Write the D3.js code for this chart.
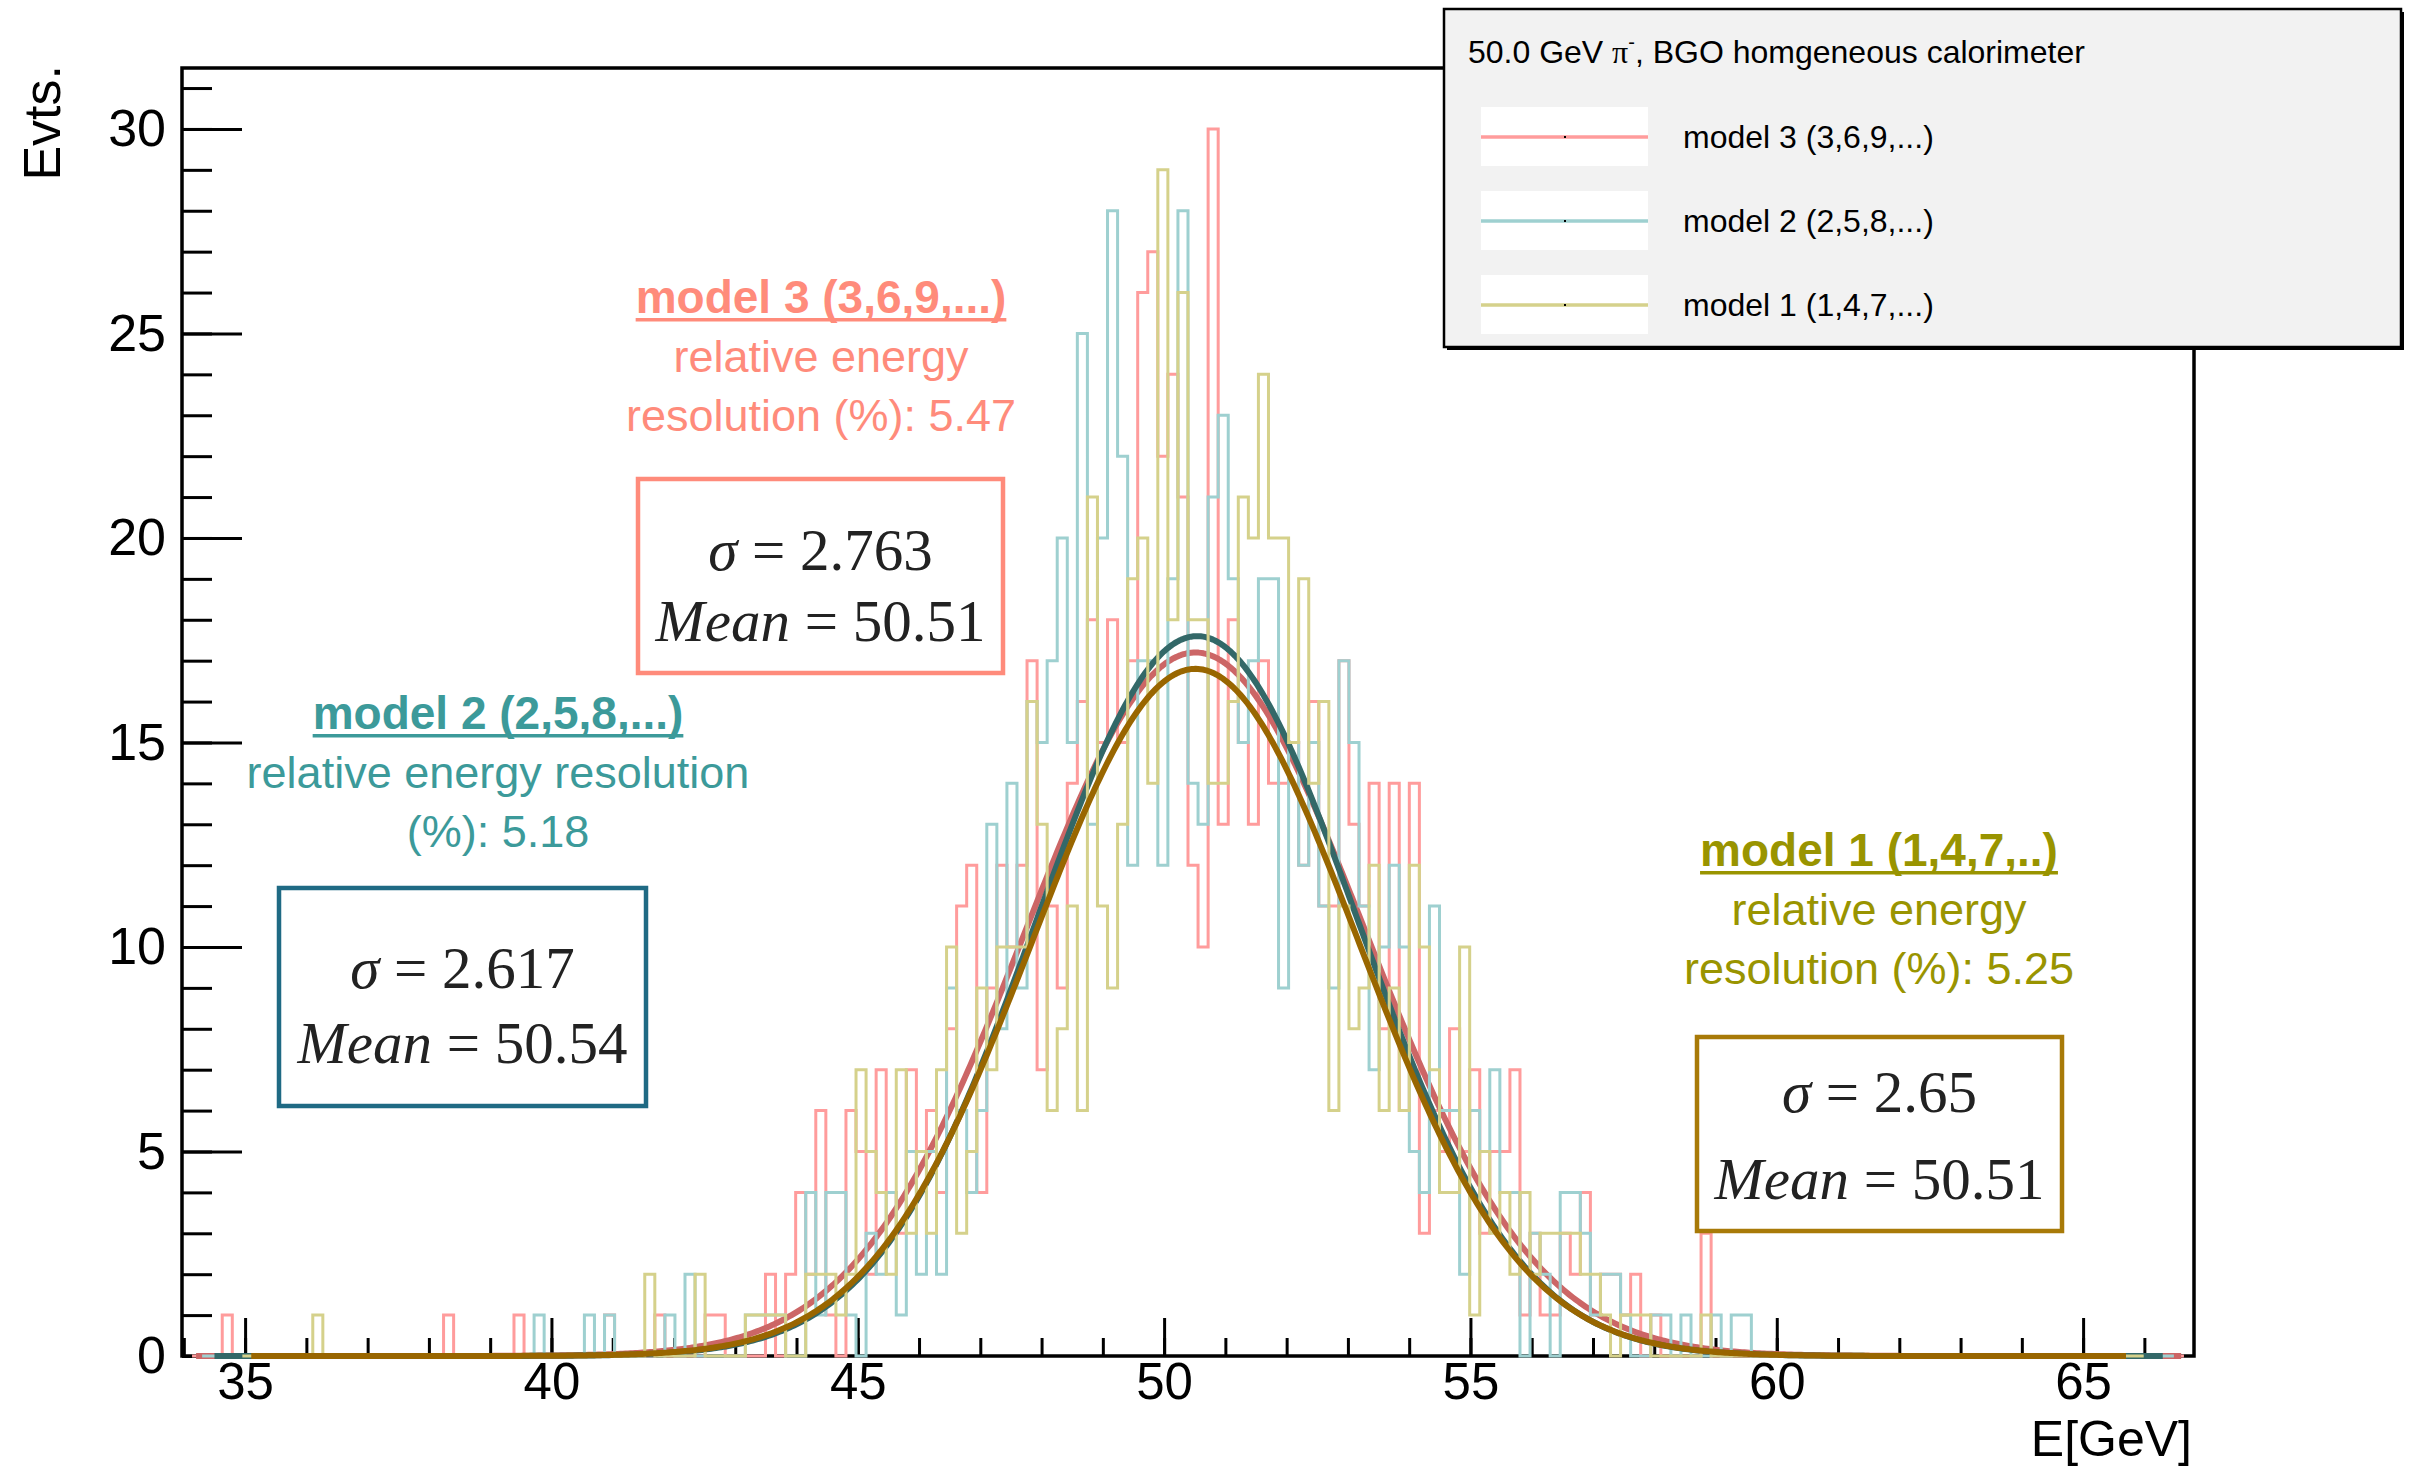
<!DOCTYPE html>
<html>
<head>
<meta charset="utf-8">
<script src="https://cdn.jsdelivr.net/npm/d3@7"></script>
<style>
  html, body { margin: 0; padding: 0; background: #fff; }
  svg { display: block; }
</style>
</head>
<body>
<svg id="chart" width="2416" height="1468"></svg>
<script>
// ---- histogram binning ----
const energyRange = [33.97, 66.81];   // GeV
const nBins = 200;
const xTicks = [35, 40, 45, 50, 55, 60, 65];
const yTicks = [0, 5, 10, 15, 20, 25, 30];

// ---- per-model event counts, bins 0..159 (bins above 159 are empty) ----
const countsModel3 = [
  0,0,0,0,1,0,0,0,0,0,  0,0,0,0,0,0,0,0,0,0,
  0,0,0,0,0,0,1,0,0,0,  0,0,0,1,0,0,0,0,0,0,
  0,0,1,0,0,0,0,1,0,0,  0,0,1,1,0,0,0,0,2,0,
  2,4,2,6,1,0,6,5,2,7,  4,3,7,5,6,4,8,11,12,4,
  9,12,10,12,17,7,11,9,14,16,  18,15,18,15,17,26,27,22,24,21,
  12,10,30,13,18,15,13,17,14,14,  15,12,16,11,11,17,13,11,14,8,
  14,6,14,3,6,5,8,5,7,3,  5,5,7,1,3,1,1,3,2,4,
  1,2,2,1,2,0,1,0,0,0,  0,3,0,0,0,0,0,0,0,0
];
const countsModel2 = [
  0,0,0,0,0,0,0,0,0,0,  0,0,0,0,0,0,0,0,0,0,
  0,0,0,0,0,0,0,0,0,0,  0,0,0,0,0,1,0,0,0,0,
  1,0,1,0,0,0,0,0,1,0,  2,0,0,0,0,0,1,1,1,1,
  0,0,4,1,4,4,1,0,3,2,  4,1,5,2,5,2,9,6,4,6,
  13,8,14,9,16,15,17,20,15,25,  13,20,28,22,12,17,17,12,19,28,
  14,13,21,23,19,15,17,19,19,9,  15,12,15,11,9,17,15,11,7,10,
  12,10,5,4,11,6,6,2,6,5,  7,4,4,0,3,2,0,4,4,3,
  1,2,2,1,0,0,1,1,0,1,  0,0,1,0,1,1,0,0,0,0
];
const countsModel1 = [
  0,0,0,0,0,0,0,0,0,0,  0,0,0,1,0,0,0,0,0,0,
  0,0,0,0,0,0,0,0,0,0,  0,0,0,0,0,0,0,0,0,0,
  0,0,0,0,0,0,2,0,0,0,  0,2,0,0,0,0,1,1,1,1,
  0,0,2,2,2,1,2,7,5,4,  2,7,3,5,3,7,10,3,5,9,
  7,10,10,10,16,13,6,8,11,6,  21,11,9,13,19,20,14,29,18,26,
  18,18,14,14,16,21,20,24,20,20,  15,19,14,16,6,11,8,9,12,6,
  9,6,12,10,7,4,4,10,1,5,  3,4,2,4,2,3,3,3,3,2,
  2,1,0,1,1,1,0,0,0,0,  0,1,0,0,0,0,0,0,0,0
];
// first and last bin edge covered by each histogram
const binSpans = [[1, 199], [2, 198], [6, 195]];

// ---- Gaussian fits ----
const modelNames  = ["model 3 (3,6,9,...)", "model 2 (2,5,8,...)", "model 1 (1,4,7,...)"];
const noteTitles  = ["model 3 (3,6,9,...)", "model 2 (2,5,8,...)", "model 1 (1,4,7,..)"];
const fitSigma    = [2.763, 2.617, 2.65];
const fitMean     = [50.51, 50.54, 50.51];
const fitPeak     = [17.2, 17.6, 16.8];
const fitRanges   = [[34.2, 66.6], [34.5, 66.3], [35.1, 65.7]];
const legendTitle = "50.0 GeV";
const legendTitleTail = ", BGO homgeneous calorimeter";

const histColors = ["#ff9c9c", "#9ed0d0", "#d5d18b"];
const fitColors  = ["#cc6666", "#336868", "#996600"];
const noteColors = ["#ff8b7b", "#3c9a9a", "#999400"];
const boxColors  = ["#ff8b7b", "#1f6a84", "#a87a08"];

// ---- layout ----
const W = 2416, H = 1468;
const frame = { left: 182, right: 2194, top: 68, bottom: 1356 };
const svg = d3.select("#chart");

const x = d3.scaleLinear().domain(energyRange).range([frame.left, frame.right]);
const y = d3.scaleLinear().domain([0, 31.49]).range([frame.bottom, frame.top]);
const binWidth = (energyRange[1] - energyRange[0]) / nBins;
const edge = i => energyRange[0] + i * binWidth;

const axisFont = "'Liberation Sans', Arial, Helvetica, sans-serif";

// ---- axes (drawn first, marks sit above them) ----
const gAxes = svg.append("g");
gAxes.append("rect")
  .attr("x", frame.left).attr("y", frame.top)
  .attr("width", frame.right - frame.left).attr("height", frame.bottom - frame.top)
  .attr("fill", "none").attr("stroke", "#000").attr("stroke-width", 3.5);

// minor ticks
const yMinor = d3.range(0, 32, 1);
const xMinor = d3.range(34, 67, 1);
gAxes.append("g").attr("transform", `translate(${frame.left},0)`)
  .call(d3.axisLeft(y).tickValues(yMinor).tickSize(-30).tickFormat(""))
  .call(g => g.select(".domain").remove());
gAxes.append("g").attr("transform", `translate(0,${frame.bottom})`)
  .call(d3.axisBottom(x).tickValues(xMinor).tickSize(-18).tickFormat(""))
  .call(g => g.select(".domain").remove());
// major ticks with labels
gAxes.append("g").attr("class", "yMajor").attr("transform", `translate(${frame.left},0)`)
  .call(d3.axisLeft(y).tickValues(yTicks).tickSize(-60).tickPadding(16).tickFormat(d3.format("d")))
  .call(g => g.select(".domain").remove());
gAxes.append("g").attr("class", "xMajor").attr("transform", `translate(0,${frame.bottom})`)
  .call(d3.axisBottom(x).tickValues(xTicks).tickSize(-38).tickPadding(7).tickFormat(d3.format("d")))
  .call(g => g.select(".domain").remove());
gAxes.selectAll(".tick line").attr("stroke", "#000").attr("stroke-width", 3);
gAxes.selectAll(".yMajor .tick text")
  .attr("font-family", axisFont).attr("font-size", 52).attr("fill", "#000");
gAxes.selectAll(".xMajor .tick text")
  .attr("font-family", axisFont).attr("font-size", 51).attr("fill", "#000");

// axis titles
svg.append("text")
  .attr("x", frame.right - 2).attr("y", 1456)
  .attr("text-anchor", "end")
  .attr("font-family", axisFont).attr("font-size", 50)
  .text("E[GeV]");
svg.append("text")
  .attr("transform", `translate(60,${frame.top - 3}) rotate(-90)`)
  .attr("text-anchor", "end")
  .attr("font-family", axisFont).attr("font-size", 52)
  .text("Evts.");

// ---- histograms and fits ----
svg.append("clipPath").attr("id", "plotClip")
  .append("rect")
  .attr("x", frame.left).attr("y", frame.top)
  .attr("width", frame.right - frame.left).attr("height", frame.bottom - frame.top + 4);
const gData = svg.append("g").attr("clip-path", "url(#plotClip)");

const stepLine = d3.line().x(d => x(d[0])).y(d => y(d[1]));
function histPoints(counts, span) {
  const pts = [[edge(span[0]), 0]];
  for (let i = span[0]; i < span[1]; i++) {
    const c = counts[i] || 0;
    pts.push([edge(i), c], [edge(i + 1), c]);
  }
  pts.push([edge(span[1]), 0]);
  return pts;
}
function gaussPoints(k) {
  const [a, b] = fitRanges[k];
  return d3.range(0, 801).map(j => {
    const e = a + (b - a) * j / 800;
    const z = (e - fitMean[k]) / fitSigma[k];
    return [e, fitPeak[k] * Math.exp(-0.5 * z * z)];
  });
}
const allCounts = [countsModel3, countsModel2, countsModel1];
// each histogram is drawn together with its own fit, in turn
allCounts.forEach((counts, k) => {
  gData.append("path")
    .attr("d", stepLine(histPoints(counts, binSpans[k])))
    .attr("fill", "none").attr("stroke", histColors[k])
    .attr("stroke-width", 3).attr("stroke-linejoin", "miter");
  gData.append("path")
    .attr("d", stepLine(gaussPoints(k)))
    .attr("fill", "none").attr("stroke", fitColors[k])
    .attr("stroke-width", 6).attr("stroke-linejoin", "round");
});

// ---- per-model notes and fit boxes ----
const noteFont = "'Liberation Sans', Arial, Helvetica, sans-serif";
const serif = "'Liberation Serif', 'Times New Roman', Times, serif";
const resolution = fitSigma.map((s, k) => (100 * s / fitMean[k]).toFixed(2));
const noteLines = [
  ["relative energy", `resolution (%): ${resolution[0]}`],
  ["relative energy resolution", `(%): ${resolution[1]}`],
  ["relative energy", `resolution (%): ${resolution[2]}`]
];
const notePos = [
  { cx: 821, base: 313, gap: 59, box: [638, 479, 1003, 673], sBase: 570, mBase: 641 },
  { cx: 498, base: 729, gap: 59, box: [279, 888, 646, 1106], sBase: 988, mBase: 1063 },
  { cx: 1879, base: 866, gap: 59, box: [1697, 1037, 2062, 1231], sBase: 1112, mBase: 1199 }
];

notePos.forEach((p, k) => {
  const g = svg.append("g");
  const title = g.append("text")
    .attr("x", p.cx).attr("y", p.base)
    .attr("text-anchor", "middle")
    .attr("font-family", noteFont).attr("font-size", 46).attr("font-weight", "bold")
    .attr("fill", noteColors[k])
    .text(noteTitles[k]);
  const bb = title.node().getBBox();
  g.append("rect")
    .attr("x", bb.x).attr("y", p.base + 5)
    .attr("width", bb.width).attr("height", 3.5)
    .attr("fill", noteColors[k]);
  noteLines[k].forEach((line, j) => {
    g.append("text")
      .attr("x", p.cx).attr("y", p.base + p.gap * (j + 1))
      .attr("text-anchor", "middle")
      .attr("font-family", noteFont).attr("font-size", 45)
      .attr("fill", noteColors[k])
      .text(line);
  });

  const [x0, y0, x1, y1] = p.box;
  g.append("rect")
    .attr("x", x0).attr("y", y0).attr("width", x1 - x0).attr("height", y1 - y0)
    .attr("fill", "#fff").attr("stroke", boxColors[k]).attr("stroke-width", 4.5);
  const bcx = (x0 + x1) / 2;
  const sTxt = g.append("text")
    .attr("x", bcx).attr("y", p.sBase).attr("text-anchor", "middle")
    .attr("font-family", serif).attr("font-size", 59).attr("fill", "#222");
  sTxt.append("tspan").attr("font-style", "italic").text("\u03c3");
  sTxt.append("tspan").text(" = " + String(fitSigma[k]));
  const mTxt = g.append("text")
    .attr("x", bcx).attr("y", p.mBase).attr("text-anchor", "middle")
    .attr("font-family", serif).attr("font-size", 59).attr("fill", "#222");
  mTxt.append("tspan").attr("font-style", "italic").text("Mean");
  mTxt.append("tspan").text(" = " + fitMean[k].toFixed(2));
});

// ---- legend ----
const leg = svg.append("g");
const L = { x: 1444, y: 9, w: 957, h: 338 };
leg.append("rect").attr("x", L.x + 3).attr("y", L.y + 3).attr("width", L.w).attr("height", L.h).attr("fill", "#000");
leg.append("rect").attr("x", L.x).attr("y", L.y).attr("width", L.w).attr("height", L.h)
  .attr("fill", "#f2f2f2").attr("stroke", "#000").attr("stroke-width", 2.5);
const lt = leg.append("text")
  .attr("x", 1468).attr("y", 63)
  .attr("font-family", noteFont).attr("font-size", 32).attr("fill", "#000");
lt.append("tspan").text(legendTitle + " ");
lt.append("tspan").attr("font-family", serif).text("\u03c0");
lt.append("tspan").attr("font-size", 20).attr("dy", -14).text("-");
lt.append("tspan").attr("dy", 14).text(legendTitleTail);

const entryY = [137, 221, 305];
modelNames.forEach((name, k) => {
  leg.append("rect").attr("x", 1481).attr("y", entryY[k] - 30).attr("width", 167).attr("height", 59).attr("fill", "#fff");
  leg.append("line")
    .attr("x1", 1481).attr("x2", 1648).attr("y1", entryY[k]).attr("y2", entryY[k])
    .attr("stroke", histColors[k]).attr("stroke-width", 3.5);
  leg.append("rect").attr("x", 1564).attr("y", entryY[k] - 1).attr("width", 2).attr("height", 2).attr("fill", "#000");
  leg.append("text")
    .attr("x", 1683).attr("y", entryY[k] + 11)
    .attr("font-family", noteFont).attr("font-size", 32).attr("fill", "#000")
    .text(name);
});
</script>
</body>
</html>
